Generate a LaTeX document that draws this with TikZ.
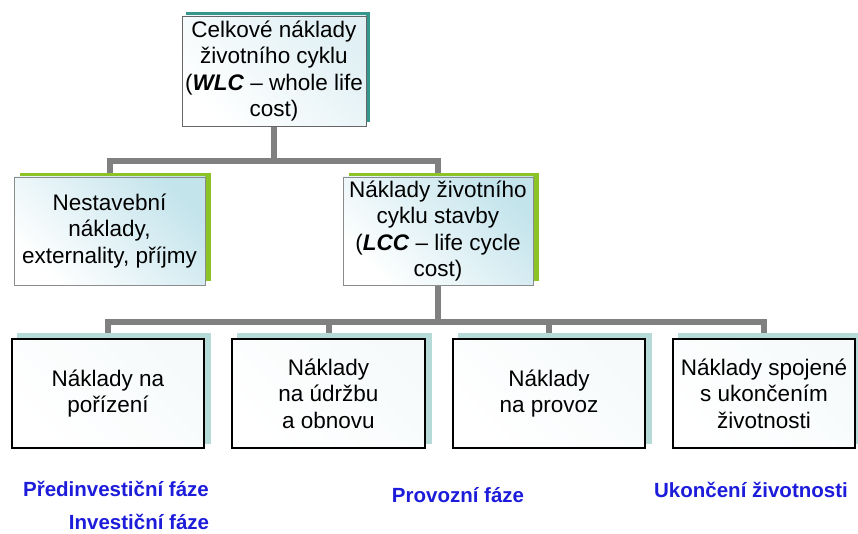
\documentclass[tikz,border=0pt]{standalone}
\usepackage{fontspec}
\setmainfont{Liberation Sans}
\usetikzlibrary{backgrounds}
\definecolor{conn}{RGB}{128,128,128}
\definecolor{tealsh}{RGB}{52,150,140}
\definecolor{greensh}{RGB}{140,196,40}
\definecolor{lightsh}{RGB}{182,218,216}
\definecolor{lbA}{RGB}{224,240,244}
\definecolor{lbB}{RGB}{196,228,236}
\definecolor{lbC}{RGB}{246,250,251}
\definecolor{phase}{RGB}{28,28,218}
\tikzset{
  boxtext/.style={align=center, inner sep=0pt, font=\fontsize{22.5}{26.5}\selectfont, text=black},
  topbox/.style={boxtext, draw=black!60, line width=0.8pt, top color=lbA, bottom color=white, shading angle=-45},
  greenbox/.style={boxtext, draw=black!45, line width=0.8pt, top color=lbB, bottom color=white, shading angle=-45},
  costbox/.style={boxtext, draw=black, line width=1.2pt, top color=lbC, bottom color=white, shading angle=-45},
  conline/.style={draw=conn, line width=6pt},
  phaselabel/.style={font=\fontsize{20.5}{24}\selectfont\bfseries, text=phase, inner sep=0pt}
}
\begin{document}
\begin{tikzpicture}[x=1pt,y=-1pt]
\useasboundingbox (0,0) rectangle (858,534);

\node[topbox, minimum width=184pt, minimum height=110pt] (wlc) at (274,71)
  {Celkové náklady\\životního cyklu\\(\textbf{\textit{WLC}} – whole life\\cost)};
\node[greenbox, minimum width=191pt, minimum height=108pt] (nonb) at (109.5,231)
  {Nestavební\\náklady,\\externality, příjmy};
\node[greenbox, minimum width=190pt, minimum height=108pt] (lcc) at (438,231)
  {Náklady životního\\cyklu stavby\\(\textbf{\textit{LCC}} – life cycle\\cost)};

\node[costbox, minimum width=192pt, minimum height=109pt] (b1) at (108,393.5)
  {Náklady na\\pořízení};
\node[costbox, minimum width=193pt, minimum height=109pt] (b2) at (328.5,393.5)
  {Náklady\\na údržbu\\a obnovu};
\node[costbox, minimum width=192pt, minimum height=109pt] (b3) at (549,393.5)
  {Náklady\\na provoz};
\node[costbox, minimum width=182pt, minimum height=109pt] (b4) at (764,393.5)
  {Náklady spojené\\s ukončením\\životnosti};

\coordinate (h1) at (0,161);
\coordinate (h2) at (0,322);

\begin{scope}[on background layer]
  \fill[white] (0,0) rectangle (858,534);
  % connectors
  \draw[conline] (wlc.south) -- (wlc.south |- h1);
  \draw[conline] (nonb.north) |- (wlc.south |- h1) -| (lcc.north);
  \draw[conline] (lcc.south) -- (lcc.south |- h2);
  \draw[conline] (b1.north) |- (lcc.south |- h2) -| (b4.north);
  \draw[conline] (b2.north) -- (b2.north |- h2);
  \draw[conline] (b3.north) -- (b3.north |- h2);
  % shadows
  \fill[tealsh] ([shift={(4,-4)}]wlc.south west) rectangle ([shift={(4,-4)}]wlc.north east);
  \foreach \n in {nonb,lcc}
    \fill[greensh] ([shift={(6,-4)}]\n.south west) rectangle ([shift={(6,-4)}]\n.north east);
  \foreach \n in {b1,b2,b3,b4}
    \fill[lightsh] ([shift={(6,-5)}]\n.south west) rectangle ([shift={(6,-5)}]\n.north east);
\end{scope}

\node[phaselabel] (p1) at (116,489) {Předinvestiční fáze};
\node[phaselabel] (p2) at (139,522) {Investiční fáze};
\node[phaselabel] (p3) at (458,495) {Provozní fáze};
\node[phaselabel] (p4) at (751,490) {Ukončení životnosti};
\end{tikzpicture}
\end{document}
